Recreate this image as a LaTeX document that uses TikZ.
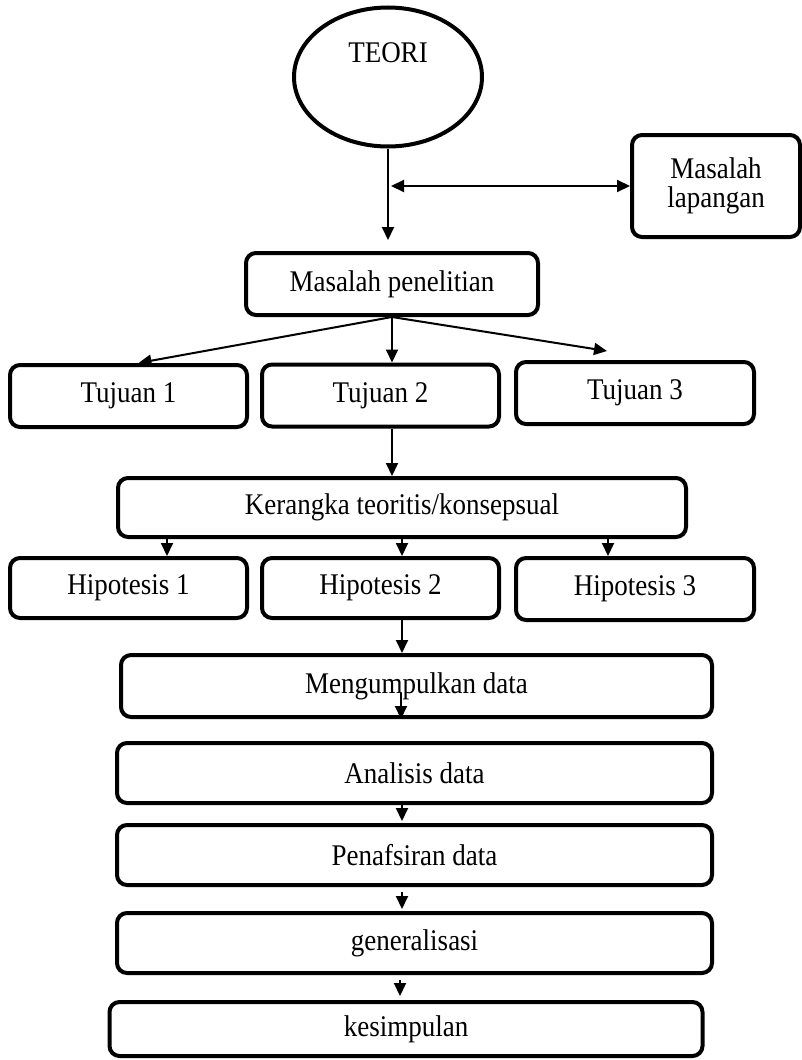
\documentclass[tikz,border=0pt]{standalone}
\usepackage{fontspec}
\setmainfont{Liberation Serif}[FakeStretch=0.9]
\usetikzlibrary{shapes.geometric,arrows.meta,calc}
\begin{document}
\begin{tikzpicture}[x=1pt,y=-1pt,
  every node/.style={font=\fontsize{30}{33}\selectfont},
  box/.style={draw, line width=4pt, rounded corners=10pt, inner sep=0pt, align=center},
  arr/.style={line width=2pt, -{Triangle[width=12pt,length=13pt]}},
  darr/.style={line width=2pt, {Triangle[width=12pt,length=13pt]}-{Triangle[width=12pt,length=13pt]}}]
\useasboundingbox (0,0) rectangle (802,1060);
\node[draw, ellipse, line width=4pt, minimum width=188pt, minimum height=139pt, inner sep=0pt,
      label={[yshift=24pt]center:TEORI}] (teori) at (388,77) {};
\node[box, minimum width=168pt, minimum height=102pt] (ml) at (716,186) {Masalah\\[-4pt]lapangan};
\node[box, minimum width=292pt, minimum height=62pt] (mp) at (392,284) {Masalah penelitian};
\node[box, minimum width=237pt, minimum height=62pt] (t1) at (128.5,396) {Tujuan 1};
\node[box, minimum width=237pt, minimum height=62pt] (t2) at (380.5,395.5) {Tujuan 2};
\node[box, minimum width=238pt, minimum height=62pt] (t3) at (635,393) {Tujuan 3};
\node[box, minimum width=568pt, minimum height=59pt] (kr) at (402,507.5) {Kerangka teoritis/konsepsual};
\node[box, minimum width=237pt, minimum height=60pt] (h1) at (128.5,588) {Hipotesis 1};
\node[box, minimum width=237pt, minimum height=60pt] (h2) at (380.5,588) {Hipotesis 2};
\node[box, minimum width=238pt, minimum height=62pt] (h3) at (635,589) {Hipotesis 3};
\node[box, minimum width=591pt, minimum height=62pt] (mk) at (416.5,686) {Mengumpulkan data};
\node[box, minimum width=595pt, minimum height=60pt] (an) at (414.5,773) {Analisis data};
\node[box, minimum width=595pt, minimum height=60pt] (pf) at (414.5,855) {Penafsiran data};
\node[box, minimum width=595pt, minimum height=60pt] (ge) at (414.5,943) {generalisasi};
\node[box, minimum width=593pt, minimum height=54pt] (ks) at (406,1029) {kesimpulan};
% connectors
\draw[arr, shorten >=11pt] (teori.south) -- (teori.south |- mp.north);
\coordinate (j) at (391,186);
\draw[darr] (j) -- (ml.west);
\draw[arr] (mp.south) -- ([xshift=10pt]t1.north);
\draw[arr] (mp.south) -- (mp.south |- t2.north);
\draw[arr] (mp.south) -- ([xshift=-28pt,yshift=9pt]t3.north);
\draw[arr] (mp.south |- t2.south) -- (mp.south |- kr.north);
\draw[arr] ([xshift=-235pt,yshift=4pt]kr.south) -- ([xshift=-235pt]kr.south |- h1.north);
\draw[arr] ([yshift=4pt]kr.south) -- (kr.south |- h2.north);
\draw[arr] ([xshift=206pt,yshift=4pt]kr.south) -- ([xshift=206pt]kr.south |- h3.north);
\draw[arr] (kr.south |- h2.south) -- (kr.south |- mk.north);
\coordinate (mkin) at (401,693);
\draw[arr] (mkin) -- (mkin |- mk.south);
\draw[arr, shorten >=2pt] (kr.south |- an.south) -- (kr.south |- pf.north);
\draw[arr, shorten <=5pt, shorten >=2pt] (kr.south |- pf.south) -- (kr.south |- ge.north);
\draw[arr, shorten <=5pt, shorten >=4pt] ([xshift=-2pt]kr.south |- ge.south) -- ([xshift=-2pt]kr.south |- ks.north);
\end{tikzpicture}
\end{document}
